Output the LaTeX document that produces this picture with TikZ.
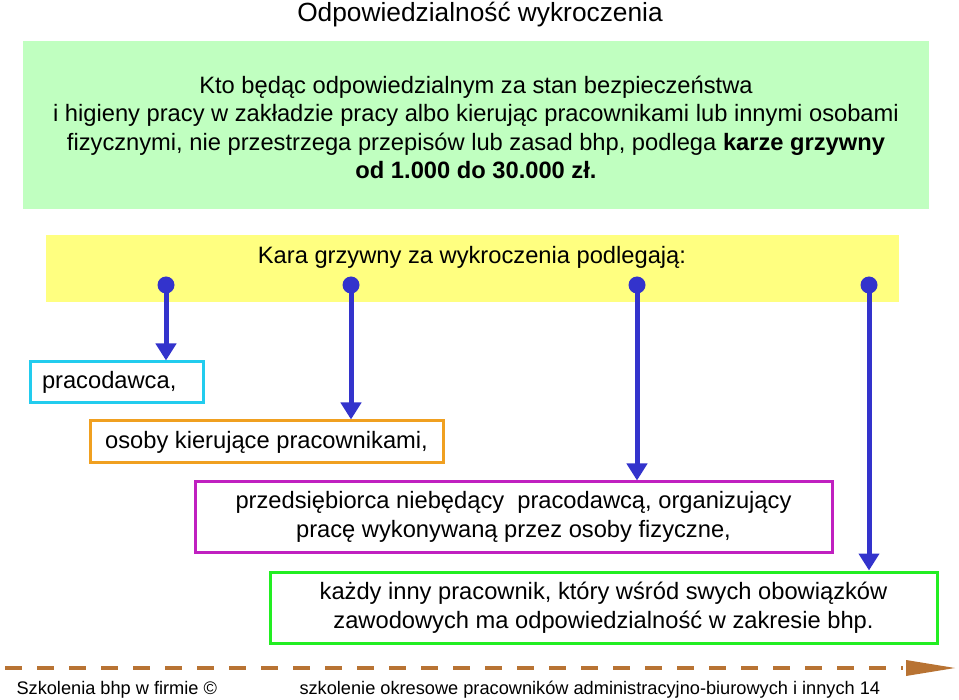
\documentclass[tikz,border=0pt]{standalone}
\usepackage{fontspec}
\setmainfont{Liberation Sans}
\usetikzlibrary{arrows.meta}
\definecolor{boxgreen}{HTML}{C0FFC0}
\definecolor{boxyellow}{HTML}{FFFF80}
\definecolor{arrblue}{HTML}{3333CC}
\definecolor{cyanb}{HTML}{22CCEE}
\definecolor{orangeb}{HTML}{F0A020}
\definecolor{magb}{HTML}{C020C0}
\definecolor{greenb}{HTML}{22EE22}
\definecolor{footbrown}{HTML}{B87333}
\tikzset{
  body/.style={font=\fontsize{23.7}{28.5}\selectfont, text=black},
  dot/.style={circle, fill=arrblue, minimum size=17pt, inner sep=0pt},
  conn/.style={arrblue, line width=5pt, -{Triangle[width=20pt,length=17pt]}},
  item/.style={draw, line width=3pt, fill=white, inner sep=0pt, font=\fontsize{23.7}{28.5}\selectfont, align=center},
  foot/.style={font=\fontsize{18.2}{20}\selectfont, anchor=west},
}
\begin{document}
\begin{tikzpicture}[x=1pt,y=-1pt]
\useasboundingbox (0,0) rectangle (959,700);
\fill[white] (0,0) rectangle (959,700);
% title
\node[font=\fontsize{26.3}{30}\selectfont] (title) at (480,14.5) {Odpowiedzialność wykroczenia};
% green box
\node[fill=boxgreen, minimum width=906pt, minimum height=168pt, inner sep=0pt] (gbox) at (476,125) {};
\node[body, align=center] (gtext) at (476,127.5) {Kto będąc odpowiedzialnym za stan bezpieczeństwa\\
i higieny pracy w zakładzie pracy albo kierując pracownikami lub innymi osobami\\
fizycznymi, nie przestrzega przepisów lub zasad bhp, podlega \textbf{karze grzywny}\\
\textbf{od 1.000 do 30.000 zł.}};
% yellow box
\node[fill=boxyellow, minimum width=853pt, minimum height=67pt, inner sep=0pt] (ybox) at (472.5,268.5) {};
\node[body] (ytext) at (472,257) {Kara grzywny za wykroczenia podlegają:};
% boxes
\node[item, draw=cyanb, minimum width=173pt, minimum height=41pt, text width=149pt, align=left] (b1) at (116.5,382.5) {pracodawca,};
\node[item, draw=orangeb, minimum width=353pt, minimum height=42pt] (b2) at (266.5,442) {osoby kierujące pracownikami,};
\node[item, draw=magb, minimum width=637pt, minimum height=70pt] (b3) at (513.5,517) {przedsiębiorca niebędący\ \ pracodawcą, organizujący\\ pracę wykonywaną przez osoby fizyczne,};
\node[item, draw=greenb, minimum width=667pt, minimum height=71pt] (b4) at (603.5,607.5) {każdy inny pracownik, który wśród swych obowiązków\\ zawodowych ma odpowiedzialność w zakresie bhp.};
% dots and arrows
\node[dot] (d1) at (166,285) {};
\node[dot] (d2) at (351,285) {};
\node[dot] (d3) at (637,285) {};
\node[dot] (d4) at (869,285) {};
\draw[conn] (d1.center) -- (d1 |- b1.north);
\draw[conn] (d2.center) -- (d2 |- b2.north);
\draw[conn] (d3.center) -- (d3 |- b3.north);
\draw[conn] (d4.center) -- (d4 |- b4.north);
% footer
\coordinate (fs) at (5,668);
\coordinate (fe) at (903,668);
\draw[footbrown, line width=4.5pt, dash pattern=on 17pt off 15pt] (fs) -- (fe);
\fill[footbrown] (906,660) -- (955,668) -- (906,676) -- cycle;
\node[foot] (f1) at (13,689.5) {Szkolenia bhp w firmie ©};
\node[foot] (f2) at (296,689.5) {szkolenie okresowe pracowników administracyjno-biurowych i innych 14};
\end{tikzpicture}
\end{document}
